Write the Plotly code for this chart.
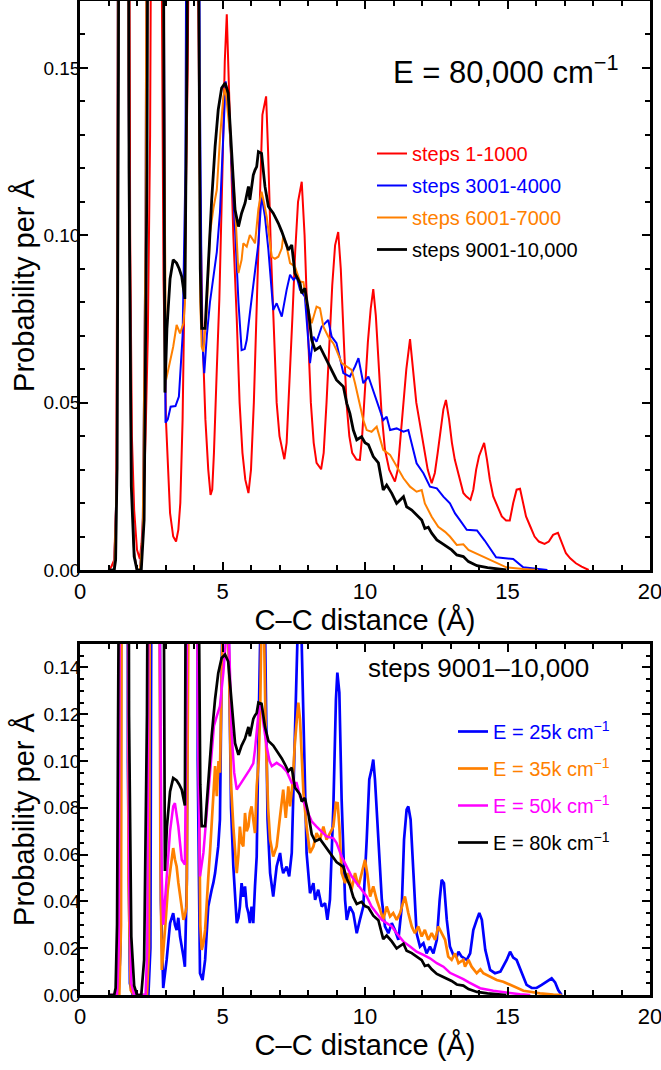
import plotly.graph_objects as go

FONT = "Liberation Sans, Arial, Helvetica, sans-serif"

# ---------------- data: top panel (E = 80,000 cm-1) ----------------
red_x = [1.0, 1.1, 1.2, 1.27, 1.33, 1.4, 1.5, 1.6, 1.7, 1.76, 1.82, 1.9, 2.0, 2.1, 2.16, 2.22, 2.3, 2.38,
         2.46, 2.55, 2.65, 2.75, 2.82, 2.87, 2.93, 3.02, 3.1, 3.16, 3.27, 3.37, 3.45, 3.52, 3.6, 3.68, 3.78,
         3.9, 4.0, 4.1, 4.14, 4.2, 4.3, 4.4, 4.5, 4.58, 4.64, 4.7, 4.8, 4.89, 5.0, 5.08, 5.15, 5.27, 5.38,
         5.5, 5.6, 5.7, 5.8, 5.91, 6.0, 6.1, 6.2, 6.3, 6.4, 6.53, 6.6, 6.7, 6.8, 6.9, 7.0, 7.17, 7.25, 7.35,
         7.45, 7.55, 7.65, 7.78, 7.88, 7.98, 8.1, 8.2, 8.3, 8.46, 8.55, 8.65, 8.75, 8.85, 8.95, 9.06, 9.15,
         9.25, 9.35, 9.45, 9.55, 9.7, 9.82, 9.9, 10.0, 10.1, 10.2, 10.29, 10.38, 10.48, 10.58, 10.7, 10.85,
         11.05, 11.15, 11.25, 11.35, 11.45, 11.58, 11.68, 11.8, 11.9, 12.0, 12.1, 12.2, 12.34, 12.45, 12.55,
         12.65, 12.75, 12.84, 12.95, 13.05, 13.15, 13.3, 13.45, 13.55, 13.7, 13.8, 13.9, 14.0, 14.18, 14.28,
         14.38, 14.5, 14.65, 14.8, 14.95, 15.08, 15.2, 15.32, 15.44, 15.55, 15.65, 15.8, 15.95, 16.1, 16.3,
         16.45, 16.6, 16.77, 16.9, 17.05, 17.2, 17.4, 17.6, 17.85]
red_y = [0.0, 0.001, 0.003, 0.02, 0.15, 0.5, 0.9, 0.7, 0.3, 0.1, 0.04, 0.018, 0.006, 0.0033, 0.008, 0.017,
         0.04, 0.07, 0.13, 0.4, 0.5, 0.4, 0.25, 0.17, 0.087, 0.044, 0.025, 0.017, 0.01, 0.0085, 0.012, 0.02,
         0.045, 0.087, 0.15, 0.3, 0.32, 0.22, 0.17, 0.12, 0.07, 0.045, 0.03, 0.0224, 0.024, 0.035, 0.06,
         0.081, 0.12, 0.152, 0.166, 0.13, 0.1, 0.075, 0.05, 0.035, 0.027, 0.023, 0.03, 0.05, 0.08, 0.11,
         0.136, 0.1415, 0.125, 0.095, 0.07, 0.05, 0.04, 0.0331, 0.038, 0.055, 0.075, 0.095, 0.11, 0.116, 0.1,
         0.075, 0.05, 0.038, 0.032, 0.0301, 0.035, 0.05, 0.07, 0.085, 0.097, 0.101, 0.09, 0.07, 0.05, 0.04,
         0.035, 0.033, 0.0329, 0.04, 0.055, 0.068, 0.078, 0.0839, 0.076, 0.06, 0.047, 0.036, 0.03, 0.0264,
         0.03, 0.04, 0.05, 0.06, 0.069, 0.06, 0.05, 0.045, 0.04, 0.034, 0.03, 0.0259, 0.029, 0.035, 0.042,
         0.048, 0.0508, 0.045, 0.038, 0.033, 0.028, 0.023, 0.022, 0.021, 0.024, 0.03, 0.034, 0.038, 0.033,
         0.027, 0.022, 0.019, 0.016, 0.0148, 0.0148, 0.02, 0.024, 0.0243, 0.02, 0.016, 0.013, 0.01, 0.0085,
         0.0078, 0.0085, 0.0105, 0.0111, 0.008, 0.005, 0.0035, 0.002, 0.001, 0.0]

blue_x = [1.0, 1.2, 1.3, 1.4, 1.5, 1.6, 1.7, 1.8, 1.9, 2.0, 2.1, 2.2, 2.3, 2.4, 2.5, 2.6, 2.7, 2.8, 2.93,
          3.0, 3.08, 3.18, 3.35, 3.47, 3.6, 3.7, 3.8, 3.9, 4.0, 4.1, 4.2, 4.28, 4.36, 4.45, 4.56, 4.67, 4.8,
          4.91, 5.0, 5.11, 5.2, 5.3, 5.45, 5.56, 5.67, 5.78, 5.85, 5.96, 6.08, 6.2, 6.26, 6.37, 6.49, 6.61,
          6.78, 6.9, 7.08, 7.25, 7.37, 7.49, 7.6, 7.72, 7.89, 8.07, 8.19, 8.3, 8.48, 8.71, 8.83, 9.0, 9.24,
          9.47, 9.65, 9.77, 9.94, 10.12, 10.35, 10.64, 10.76, 10.88, 11.11, 11.35, 11.52, 11.7, 11.81, 12.05,
          12.28, 12.52, 12.75, 12.98, 13.16, 13.33, 13.57, 13.93, 14.2, 14.6, 15.2, 15.55, 16.0, 16.4]
blue_y = [0.0, 0.0, 0.03, 0.6, 1.4, 0.8, 0.15, 0.03, 0.005, 0.0, 0.0, 0.01, 0.1, 0.4, 0.8, 0.9, 0.7, 0.4,
          0.2, 0.044, 0.045, 0.0488, 0.049, 0.0518, 0.07, 0.12, 0.3, 0.8, 0.9, 0.5, 0.15, 0.07, 0.0588, 0.07,
          0.08, 0.0867, 0.095, 0.1067, 0.125, 0.146, 0.14, 0.125, 0.1, 0.08, 0.0657, 0.066, 0.0687, 0.0767,
          0.085, 0.095, 0.0976, 0.112, 0.1056, 0.0956, 0.0777, 0.0797, 0.0757, 0.0837, 0.0882, 0.0867, 0.0877,
          0.0837, 0.0817, 0.0618, 0.0697, 0.0682, 0.0727, 0.0747, 0.0697, 0.0678, 0.0588, 0.0578, 0.0608,
          0.0633, 0.0558, 0.0578, 0.0518, 0.0448, 0.0458, 0.0418, 0.0423, 0.0413, 0.0418, 0.0359, 0.0319,
          0.0289, 0.0249, 0.0244, 0.0219, 0.0199, 0.0169, 0.0149, 0.012, 0.0118, 0.0088, 0.0038, 0.0033,
          0.0008, 0.0003, 0.0]

orange_x = [1.0, 1.2, 1.3, 1.4, 1.5, 1.6, 1.7, 1.8, 1.9, 2.0, 2.1, 2.2, 2.3, 2.4, 2.5, 2.6, 2.7, 2.8, 2.9,
            3.02, 3.1, 3.27, 3.39, 3.51, 3.63, 3.68, 3.75, 3.85, 3.95, 4.05, 4.15, 4.22, 4.27, 4.33, 4.44,
            4.56, 4.68, 4.8, 4.92, 5.03, 5.1, 5.26, 5.44, 5.56, 5.67, 5.73, 5.85, 5.96, 6.08, 6.14, 6.26, 6.37,
            6.45, 6.55, 6.73, 6.84, 6.96, 7.08, 7.13, 7.25, 7.37, 7.54, 7.72, 7.84, 7.95, 8.13, 8.3, 8.42, 8.54,
            8.71, 8.89, 9.0, 9.18, 9.36, 9.53, 9.65, 9.77, 9.94, 10.06, 10.23, 10.41, 10.53, 10.64, 10.88,
            11.11, 11.35, 11.58, 11.81, 11.99, 12.1, 12.34, 12.57, 12.81, 12.98, 13.22, 13.45, 13.63, 13.93,
            14.44, 14.96, 15.55, 16.07]
orange_y = [0.0, 0.0, 0.03, 0.6, 1.4, 0.8, 0.15, 0.03, 0.005, 0.0, 0.0, 0.01, 0.1, 0.4, 0.8, 0.9, 0.7, 0.4,
            0.2, 0.0568, 0.0598, 0.0667, 0.0732, 0.0707, 0.0737, 0.0797, 0.15, 0.6, 1.0, 0.6, 0.2, 0.08,
            0.0667, 0.0652, 0.0767, 0.1006, 0.108, 0.1136, 0.13, 0.1415, 0.144, 0.1305, 0.1086, 0.0887, 0.0927,
            0.0976, 0.0966, 0.1001, 0.0985, 0.0976, 0.108, 0.113, 0.11, 0.1056, 0.0936, 0.093, 0.0936, 0.0961,
            0.0996, 0.0966, 0.0917, 0.0907, 0.0862, 0.086, 0.0797, 0.0737, 0.0787, 0.0782, 0.0727, 0.0697,
            0.0677, 0.0657, 0.0618, 0.0608, 0.0598, 0.0558, 0.0513, 0.0448, 0.0418, 0.0413, 0.0428, 0.0389,
            0.0359, 0.0344, 0.0309, 0.0274, 0.0249, 0.0234, 0.0239, 0.0199, 0.0159, 0.0129, 0.0114, 0.01,
            0.0075, 0.0077, 0.006, 0.0048, 0.0028, 0.0008, 0.0003, 0.0]

# steps 9001-10,000 at E = 80k cm-1 (same curve in both panels)
black_x = [1.0, 1.2, 1.25, 1.3, 1.35, 1.45, 1.55, 1.65, 1.72, 1.8, 1.9, 2.0, 2.15, 2.25, 2.35, 2.45, 2.55,
           2.65, 2.75, 2.85, 2.93, 2.98, 3.05, 3.16, 3.27, 3.39, 3.48, 3.57, 3.68, 3.76, 3.85, 3.95, 4.05,
           4.15, 4.22, 4.27, 4.39, 4.44, 4.53, 4.62, 4.74, 4.85, 4.97, 5.09, 5.2, 5.32, 5.44, 5.56, 5.67,
           5.79, 5.91, 5.96, 6.08, 6.14, 6.2, 6.26, 6.37, 6.49, 6.61, 6.78, 6.96, 7.08, 7.19, 7.31, 7.43,
           7.54, 7.72, 7.78, 7.89, 8.01, 8.13, 8.25, 8.42, 8.6, 8.77, 9.0, 9.24, 9.36, 9.47, 9.59, 9.71, 9.88,
           10.0, 10.12, 10.29, 10.47, 10.64, 10.76, 10.94, 11.11, 11.35, 11.46, 11.64, 11.81, 11.99, 12.1,
           12.22, 12.34, 12.52, 12.69, 12.87, 13.04, 13.22, 13.45, 13.63, 13.93, 14.3, 14.6, 14.96]
black_y = [0.0, 0.0, 0.003, 0.03, 0.15, 1.1, 1.4, 0.6, 0.12, 0.025, 0.004, 0.0, 0.0, 0.015, 0.12, 0.5, 0.9,
           0.95, 0.7, 0.4, 0.2, 0.053, 0.072, 0.087, 0.0927, 0.0917, 0.09, 0.0877, 0.081, 0.16, 0.6, 1.0,
           0.7, 0.2, 0.09, 0.0722, 0.0722, 0.0807, 0.096, 0.1106, 0.1265, 0.1375, 0.144, 0.1455, 0.1425,
           0.1255, 0.1076, 0.1026, 0.1066, 0.1096, 0.1146, 0.1106, 0.118, 0.1195, 0.1205, 0.125, 0.1245,
           0.1146, 0.1086, 0.1066, 0.1036, 0.1011, 0.0986, 0.0956, 0.0971, 0.0887, 0.0857, 0.0827, 0.0842,
           0.0777, 0.0687, 0.0657, 0.0667, 0.0637, 0.0608, 0.0568, 0.0548, 0.0498, 0.0468, 0.0418, 0.0389,
           0.0398, 0.038, 0.0374, 0.0339, 0.032, 0.0239, 0.0254, 0.0229, 0.0199, 0.0219, 0.0189, 0.0179,
           0.0164, 0.0149, 0.0124, 0.0128, 0.011, 0.009, 0.008, 0.007, 0.006, 0.0045, 0.004, 0.0025, 0.0013,
           0.0007, 0.0003, 0.0]

# ---------------- data: bottom panel (steps 9001-10,000) ----------------
e25_x = [1.0, 1.35, 1.42, 1.48, 1.55, 1.62, 1.68, 1.75, 1.85, 2.4, 2.47, 2.53, 2.6, 2.68, 2.76, 2.84, 2.92,
         3.04, 3.16, 3.27, 3.33, 3.39, 3.45, 3.51, 3.63, 3.68, 3.75, 3.85, 3.95, 4.05, 4.13, 4.21, 4.3, 4.39,
         4.5, 4.56, 4.62, 4.68, 4.74, 4.85, 4.91, 5.0, 5.1, 5.2, 5.3, 5.38, 5.44, 5.5, 5.56, 5.61, 5.67,
         5.73, 5.79, 5.85, 5.91, 5.96, 6.02, 6.08, 6.14, 6.2, 6.26, 6.33, 6.42, 6.5, 6.58, 6.67, 6.78, 6.9,
         7.02, 7.08, 7.13, 7.25, 7.34, 7.43, 7.54, 7.6, 7.68, 7.76, 7.84, 7.95, 8.07, 8.19, 8.25, 8.36, 8.48,
         8.6, 8.68, 8.77, 8.89, 8.98, 9.03, 9.1, 9.18, 9.3, 9.36, 9.47, 9.59, 9.71, 9.82, 9.94, 10.06, 10.15,
         10.23, 10.29, 10.35, 10.47, 10.59, 10.7, 10.82, 10.94, 11.05, 11.17, 11.29, 11.37, 11.46, 11.52,
         11.6, 11.7, 11.81, 11.93, 12.05, 12.16, 12.28, 12.4, 12.52, 12.62, 12.69, 12.77, 12.87, 12.98, 13.1,
         13.22, 13.28, 13.39, 13.57, 13.69, 13.8, 13.92, 14.01, 14.1, 14.22, 14.39, 14.56, 14.75, 14.97,
         15.09, 15.2, 15.32, 15.5, 15.67, 15.85, 16.02, 16.2, 16.37, 16.55, 16.67, 16.78, 16.9]
e25_y = [0.0, 0.0, 0.02, 0.4, 1.6, 1.0, 0.1, 0.005, 0.0, 0.0, 0.02, 0.3, 1.2, 1.0, 0.3, 0.04, 0.003, 0.015,
         0.0307, 0.035, 0.03, 0.0278, 0.033, 0.025, 0.0164, 0.0121, 0.05, 0.5, 1.2, 0.8, 0.1, 0.0093, 0.0064,
         0.015, 0.0378, 0.042, 0.045, 0.048, 0.0521, 0.0635, 0.075, 0.17, 0.26, 0.17, 0.08, 0.0549, 0.04,
         0.0307, 0.033, 0.0378, 0.0478, 0.042, 0.0464, 0.0378, 0.035, 0.0307, 0.0378, 0.0307, 0.0464,
         0.0592, 0.1092, 0.17, 0.22, 0.15, 0.075, 0.0521, 0.0421, 0.0549, 0.0607, 0.0549, 0.0521, 0.0549,
         0.0507, 0.0607, 0.1092, 0.1406, 0.175, 0.16, 0.112, 0.0607, 0.0435, 0.0478, 0.0407, 0.045, 0.0378,
         0.0392, 0.0321, 0.0407, 0.0806, 0.1263, 0.1378, 0.1292, 0.0835, 0.0407, 0.0321, 0.0378, 0.035,
         0.0264, 0.0321, 0.0378, 0.0664, 0.0921, 0.0964, 0.1006, 0.0921, 0.0664, 0.0407, 0.0293, 0.0264,
         0.0307, 0.0278, 0.0236, 0.0378, 0.0664, 0.0792, 0.0806, 0.075, 0.0521, 0.0264, 0.0207, 0.0221,
         0.0178, 0.0207, 0.0178, 0.0236, 0.0407, 0.0492, 0.0478, 0.0321, 0.0207, 0.0171, 0.0164, 0.0185,
         0.0164, 0.015, 0.0178, 0.0278, 0.0321, 0.035, 0.0321, 0.0193, 0.0107, 0.0093, 0.01, 0.015, 0.0185,
         0.016, 0.015, 0.0093, 0.0043, 0.003, 0.003, 0.0043, 0.0057, 0.0071, 0.0054, 0.0021, 0.0]

e35_x = [1.0, 1.38, 1.44, 1.5, 1.57, 1.64, 1.7, 1.78, 1.9, 2.35, 2.42, 2.5, 2.58, 2.66, 2.74, 2.82, 2.87,
         2.94, 3.0, 3.08, 3.16, 3.22, 3.27, 3.33, 3.39, 3.45, 3.51, 3.57, 3.63, 3.68, 3.74, 3.8, 3.88, 3.97,
         4.06, 4.14, 4.22, 4.27, 4.33, 4.39, 4.44, 4.5, 4.56, 4.62, 4.68, 4.74, 4.8, 4.86, 4.91, 4.97, 5.05,
         5.12, 5.2, 5.3, 5.38, 5.44, 5.5, 5.56, 5.61, 5.67, 5.73, 5.79, 5.85, 5.91, 5.96, 6.02, 6.08, 6.14,
         6.2, 6.27, 6.32, 6.38, 6.45, 6.52, 6.6, 6.67, 6.78, 6.9, 7.02, 7.08, 7.13, 7.22, 7.31, 7.37, 7.46,
         7.54, 7.6, 7.66, 7.72, 7.78, 7.84, 7.95, 8.07, 8.19, 8.3, 8.42, 8.54, 8.65, 8.77, 8.89, 8.98, 9.04,
         9.1, 9.18, 9.3, 9.41, 9.53, 9.65, 9.77, 9.88, 10.0, 10.08, 10.18, 10.29, 10.41, 10.53, 10.64, 10.76,
         10.88, 10.99, 11.11, 11.23, 11.35, 11.4, 11.52, 11.64, 11.75, 11.87, 11.99, 12.1, 12.22, 12.34,
         12.46, 12.57, 12.69, 12.81, 12.92, 13.04, 13.16, 13.28, 13.45, 13.51, 13.63, 13.74, 13.92, 14.05,
         14.15, 14.39, 14.62, 14.85, 15.09, 15.32, 15.56, 15.79, 16.14, 16.61, 16.9]
e35_y = [0.0, 0.0, 0.03, 0.5, 1.4, 0.5, 0.05, 0.002, 0.0, 0.0, 0.02, 0.4, 1.1, 1.0, 0.4, 0.06, 0.0107, 0.02,
         0.0307, 0.045, 0.0521, 0.058, 0.0628, 0.058, 0.0549, 0.048, 0.0421, 0.036, 0.0321, 0.034, 0.0378,
         0.15, 0.7, 1.1, 0.6, 0.15, 0.03, 0.0193, 0.022, 0.0278, 0.0407, 0.05, 0.0607, 0.072, 0.0849, 0.0978,
         0.085, 0.1, 0.095, 0.1263, 0.2, 0.23, 0.16, 0.09, 0.072, 0.06, 0.0521, 0.06, 0.072, 0.065, 0.0635,
         0.0778, 0.07, 0.072, 0.0778, 0.0806, 0.075, 0.0692, 0.0892, 0.1, 0.1206, 0.17, 0.16, 0.11, 0.08,
         0.0664, 0.0592, 0.0635, 0.0764, 0.0835, 0.0878, 0.0757, 0.0892, 0.0806, 0.0906, 0.1078, 0.1149,
         0.1249, 0.1178, 0.1035, 0.0864, 0.072, 0.0607, 0.0635, 0.0692, 0.0664, 0.072, 0.0664, 0.0692, 0.072,
         0.0821, 0.082, 0.072, 0.0521, 0.0478, 0.0521, 0.045, 0.0521, 0.0464, 0.0521, 0.0578, 0.052, 0.0421,
         0.0464, 0.0407, 0.0364, 0.0321, 0.0378, 0.0336, 0.035, 0.0321, 0.035, 0.0407, 0.0421, 0.035, 0.0293,
         0.0264, 0.0293, 0.025, 0.0278, 0.0236, 0.0264, 0.0236, 0.0293, 0.0264, 0.0236, 0.0164, 0.015,
         0.0178, 0.0136, 0.015, 0.0121, 0.015, 0.0121, 0.0093, 0.011, 0.0093, 0.0078, 0.0064, 0.0057, 0.0043,
         0.0029, 0.0018, 0.0014, 0.0007, 0.0002, 0.0]

e50_x = [1.0, 1.3, 1.36, 1.42, 1.5, 1.58, 1.66, 1.72, 1.8, 1.9, 2.3, 2.36, 2.44, 2.52, 2.62, 2.72, 2.8, 2.87,
         2.92, 3.04, 3.16, 3.27, 3.33, 3.45, 3.57, 3.68, 3.75, 3.84, 3.94, 4.04, 4.13, 4.21, 4.33, 4.44,
         4.53, 4.62, 4.7, 4.8, 4.91, 5.03, 5.09, 5.16, 5.23, 5.32, 5.41, 5.5, 5.62, 5.73, 5.85, 5.96, 6.08,
         6.14, 6.26, 6.32, 6.37, 6.43, 6.55, 6.65, 6.73, 6.9, 7.08, 7.25, 7.43, 7.6, 7.72, 7.84, 7.95, 8.13,
         8.3, 8.48, 8.65, 8.89, 9.0, 9.18, 9.36, 9.53, 9.71, 9.88, 10.06, 10.23, 10.41, 10.59, 10.76, 10.94,
         11.11, 11.35, 11.58, 11.81, 12.05, 12.28, 12.52, 12.75, 12.98, 13.22, 13.45, 13.63, 14.04, 14.5,
         14.97, 15.44, 15.8]
e50_y = [0.0, 0.0, 0.02, 0.3, 1.2, 1.1, 0.3, 0.05, 0.005, 0.0, 0.0, 0.02, 0.3, 0.9, 1.0, 0.5, 0.15, 0.05,
         0.03, 0.0493, 0.07, 0.0806, 0.082, 0.072, 0.0578, 0.0557, 0.14, 0.6, 1.0, 0.55, 0.12, 0.0507, 0.0607,
         0.0778, 0.092, 0.1063, 0.115, 0.1192, 0.1235, 0.1378, 0.149, 0.158, 0.152, 0.112, 0.095, 0.0878,
         0.09, 0.0921, 0.094, 0.0964, 0.099, 0.1049, 0.12, 0.1235, 0.124, 0.1164, 0.1063, 0.1, 0.0978,
         0.0992, 0.0978, 0.0956, 0.0906, 0.0906, 0.0849, 0.083, 0.0792, 0.0742, 0.072, 0.0699, 0.0678, 0.067,
         0.065, 0.0592, 0.0549, 0.0507, 0.0478, 0.045, 0.0421, 0.0378, 0.035, 0.0321, 0.0307, 0.0293, 0.0264,
         0.0228, 0.0207, 0.0185, 0.0171, 0.0157, 0.0136, 0.0121, 0.0095, 0.0082, 0.0068, 0.0055, 0.0029,
         0.0018, 0.001, 0.0003, 0.0]

top_names = ["steps 1-1000", "steps 3001-4000", "steps 6001-7000", "steps 9001-10,000"]
bottom_names = ["E = 25k cm<sup>\u22121</sup>", "E = 35k cm<sup>\u22121</sup>",
                "E = 50k cm<sup>\u22121</sup>", "E = 80k cm<sup>\u22121</sup>"]

RED, BLUE, ORANGE, MAGENTA, BLACK = "#ff0000", "#0000ff", "#ff8000", "#ff00ff", "#000000"

fig = go.Figure()

top_series = [(red_x, red_y, RED, 2.0), (blue_x, blue_y, BLUE, 2.0),
              (orange_x, orange_y, ORANGE, 2.0), (black_x, black_y, BLACK, 2.8)]
for i, ((xs, ys, col, w), nm) in enumerate(zip(top_series, top_names)):
    fig.add_trace(go.Scatter(
        x=xs, y=ys, mode="lines", line=dict(color=col, width=w),
        name=f"<span style='color:{col}'>{nm}</span>",
        legend="legend", legendgroup=f"top{i}", xaxis="x", yaxis="y"))

bottom_series = [(e25_x, e25_y, BLUE, 2.7), (e35_x, e35_y, ORANGE, 2.7),
                 (e50_x, e50_y, MAGENTA, 2.5), (black_x, black_y, BLACK, 2.7)]
for i, ((xs, ys, col, w), nm) in enumerate(zip(bottom_series, bottom_names)):
    fig.add_trace(go.Scatter(
        x=xs, y=ys, mode="lines", line=dict(color=col, width=w),
        name=f"<span style='color:{col}'>{nm}</span>",
        legend="legend2", legendgroup=f"bot{i}", xaxis="x2", yaxis="y2"))

W, H = 661, 1070
ML, MR, MT, MB = 80, 11, 1, 75
plot_h = H - MT - MB


def py(px):
    return (H - MB - px) / plot_h


def pxx(px):
    return (px - ML) / (W - ML - MR)


def axis(**kw):
    d = dict(showline=True, linecolor="black", linewidth=2.5, mirror="allticks",
             ticks="inside", ticklen=8, tickwidth=2, tickcolor="black",
             showgrid=False, zeroline=False, color="black", automargin=False,
             tickfont=dict(family=FONT, size=19, color="black"))
    d.update(kw)
    return d


xtitle = dict(text="C\u2013C distance (\u00c5)", font=dict(family=FONT, size=29, color="black"), standoff=2)
ytitle = dict(text="Probability per \u00c5", font=dict(family=FONT, size=29, color="black"), standoff=1)

fig.update_layout(
    width=W, height=H,
    margin=dict(l=ML, r=MR, t=MT, b=MB, autoexpand=False),
    paper_bgcolor="white", plot_bgcolor="white",
    font=dict(family=FONT, color="black"),
    xaxis=axis(domain=[0, 1], anchor="y", range=[0, 20], dtick=5, tick0=0,
               tickfont=dict(family=FONT, size=22, color="black"), ticklabeloverflow="allow",
               minor=dict(ticks="inside", dtick=1, ticklen=5, tickwidth=1.5, tickcolor="black"),
               title=xtitle),
    yaxis=axis(domain=[py(570), 1], anchor="x", range=[0, 0.17],
               tickvals=[0, 0.05, 0.10, 0.15], tickformat=".2f", ticklabelstandoff=-7,
               minor=dict(ticks="inside", dtick=0.01, tick0=0, ticklen=5, tickwidth=1.5, tickcolor="black"),
               title=ytitle),
    xaxis2=axis(domain=[0, 1], anchor="y2", range=[0, 20], dtick=5, tick0=0,
                tickfont=dict(family=FONT, size=22, color="black"), ticklabeloverflow="allow",
                minor=dict(ticks="inside", dtick=1, ticklen=5, tickwidth=1.5, tickcolor="black"),
                title=xtitle),
    yaxis2=axis(domain=[0, py(644)], anchor="x2", range=[0, 0.15], dtick=0.02, tick0=0,
                tickformat=".2f", ticklabelstandoff=-7,
                minor=dict(ticks="inside", dtick=0.005, tick0=0, ticklen=4, tickwidth=1.5, tickcolor="black"),
                title=ytitle),
    legend=dict(x=pxx(372), y=py(134), xanchor="left", yanchor="top",
                bgcolor="rgba(0,0,0,0)", borderwidth=0,
                font=dict(family=FONT, size=20, color="black"),
                tracegroupgap=3, itemwidth=30),
    legend2=dict(x=pxx(453), y=py(712), xanchor="left", yanchor="top",
                 bgcolor="rgba(0,0,0,0)", borderwidth=0,
                 font=dict(family=FONT, size=20, color="black"),
                 tracegroupgap=8, itemwidth=30),
    annotations=[
        dict(text="E = 80,000 cm<sup>\u22121</sup>", xref="paper", yref="paper",
             x=pxx(506), y=py(70), xanchor="center", yanchor="middle", showarrow=False,
             font=dict(family=FONT, size=31, color="black")),
        dict(text="steps 9001\u201310,000", xref="paper", yref="paper",
             x=pxx(478), y=py(668), xanchor="center", yanchor="middle", showarrow=False,
             font=dict(family=FONT, size=26, color="black")),
    ],
)

# remove the default 8px page margin so the figure sits at the window's top-left corner
fig.write_html("out.html", config={"displayModeBar": False},
               post_script="document.body.style.margin='0px';")
